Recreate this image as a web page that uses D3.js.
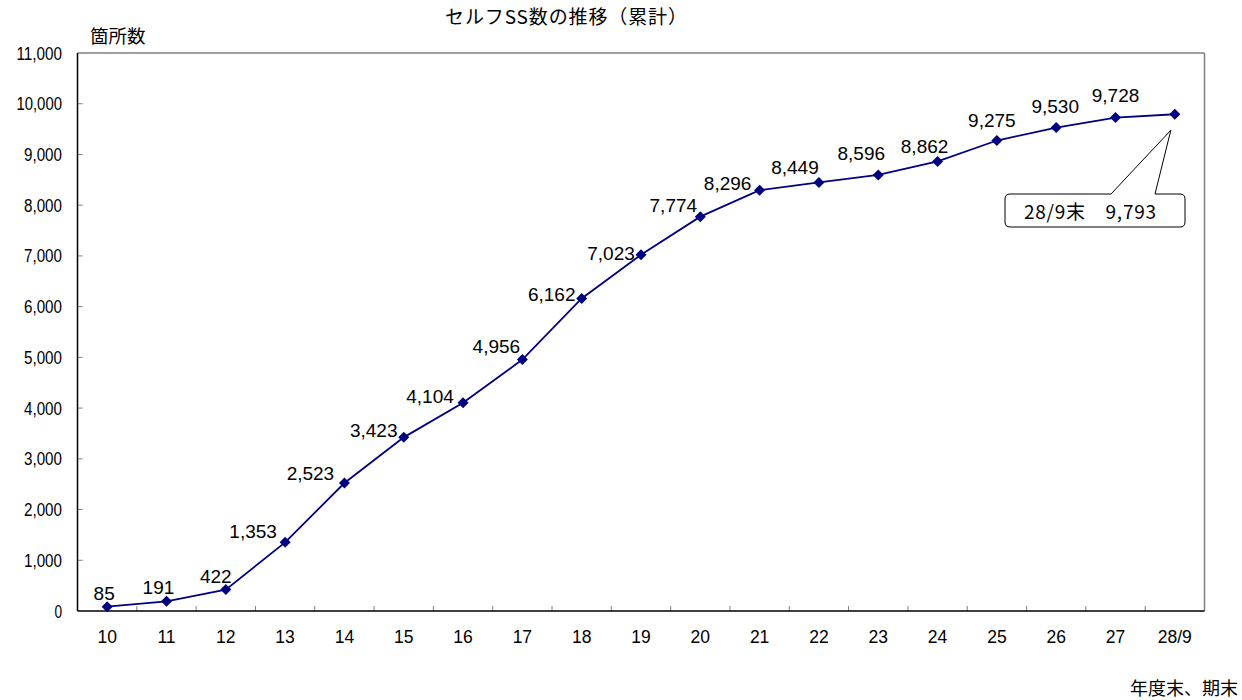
<!DOCTYPE html>
<html>
<head>
<meta charset="utf-8">
<script src="https://cdn.jsdelivr.net/npm/d3@7"></script>
<style>
  body { margin: 0; background: #fff; }
  svg text { font-family: "Liberation Sans", Arial, sans-serif; fill: #000; }
  svg text.jp { font-family: "Noto Sans CJK JP", sans-serif; }
</style>
</head>
<body>
<svg id="chart" width="1242" height="700"></svg>
<script>
const categories = ["10", "11", "12", "13", "14", "15", "16", "17", "18", "19", "20", "21", "22", "23", "24", "25", "26", "27", "28/9"];
const counts = [85, 191, 422, 1353, 2523, 3423, 4104, 4956, 6162, 7023, 7774, 8296, 8449, 8596, 8862, 9275, 9530, 9728, 9793];
const yTicks = [0, 1000, 2000, 3000, 4000, 5000, 6000, 7000, 8000, 9000, 10000, 11000];
const titleText = "セルフSS数の推移（累計）";
const yAxisLabel = "箇所数";
const xAxisLabel = "年度末、期末";
const calloutText = "28/9末　9,793";

// label nudges (Excel hand-placed labels), centre dx / baseline dy from the point
const labelDx = [-3, -8, -10, -32, -34, -30, -33, -26, -30, -30, -27, -32, -24, -17, -13, -5, -1, 0];
const labelDy = [-7, -7, -7, -4, -3, 0, 0, -7, 3, 5, -5, 0, -8, -15, -8, -14, -15, -16];

const svg = d3.select("#chart");
const plotL = 77.5, plotR = 1204.5, plotT = 53, plotB = 611;

const x = d3.scaleBand().domain(categories).range([plotL, plotR]);
const y = d3.scaleLinear().domain([0, 11000]).range([plotB, plotT]);
const fmt = d3.format(",");

// frame
svg.append("line").attr("x1", plotL).attr("x2", plotR).attr("y1", plotT).attr("y2", plotT)
  .attr("stroke", "#808080").attr("stroke-width", 1.5);
svg.append("line").attr("x1", plotR).attr("x2", plotR).attr("y1", plotT).attr("y2", plotB)
  .attr("stroke", "#808080").attr("stroke-width", 1.5);

// y ticks
svg.append("g").selectAll("line").data(yTicks.slice(1, -1)).join("line")
  .attr("x1", plotL).attr("x2", plotL + 5)
  .attr("y1", (d) => y(d)).attr("y2", (d) => y(d))
  .attr("stroke", "#808080");
svg.append("g").selectAll("text").data(yTicks).join("text")
  .attr("x", 62).attr("y", (d) => y(d) + 6.5)
  .attr("text-anchor", "end").attr("font-size", 17.5)
  .attr("textLength", (d) => fmt(d).length * 7.6)
  .attr("lengthAdjust", "spacingAndGlyphs")
  .text((d) => fmt(d));

// x ticks at band boundaries
svg.append("g").selectAll("line").data(categories.slice(1)).join("line")
  .attr("x1", (d) => x(d)).attr("x2", (d) => x(d))
  .attr("y1", plotB).attr("y2", plotB - 5)
  .attr("stroke", "#808080");
svg.append("g").selectAll("text").data(categories).join("text")
  .attr("x", (d) => x(d) + x.bandwidth() / 2).attr("y", 643)
  .attr("text-anchor", "middle").attr("font-size", 17.5)
  .text((d) => d);

svg.append("line").attr("x1", plotL).attr("x2", plotL).attr("y1", plotT).attr("y2", plotB)
  .attr("stroke", "#000").attr("stroke-width", 1.5);
svg.append("line").attr("x1", plotL).attr("x2", plotR).attr("y1", plotB).attr("y2", plotB)
  .attr("stroke", "#000").attr("stroke-width", 1.5);

const px = (i) => x(categories[i]) + x.bandwidth() / 2;
const py = (i) => y(counts[i]);

// line
svg.append("path")
  .datum(counts)
  .attr("fill", "none").attr("stroke", "#000080").attr("stroke-width", 1.8)
  .attr("d", d3.line().x((d, i) => px(i)).y((d) => y(d)));

// diamonds
svg.append("g").selectAll("path").data(counts).join("path")
  .attr("transform", (d, i) => `translate(${px(i)},${py(i)})`)
  .attr("d", "M0,-5.5L5.5,0L0,5.5L-5.5,0Z")
  .attr("fill", "#000080");

// data labels
svg.append("g").selectAll("text").data(counts.slice(0, -1)).join("text")
  .attr("x", (d, i) => px(i) + labelDx[i])
  .attr("y", (d, i) => py(i) + labelDy[i])
  .attr("text-anchor", "middle").attr("font-size", 19)
  .text((d) => fmt(d));

// callout for last point
const last = counts.length - 1;
const ax = px(last) - 4, ay = py(last) + 16;
const bx0 = 1005, bx1 = 1185, by0 = 194, by1 = 227, r = 5;
const p = d3.path();
p.moveTo(bx0 + r, by0);
p.lineTo(1111, by0);
p.lineTo(ax, ay);
p.lineTo(1155, by0);
p.lineTo(bx1 - r, by0);
p.quadraticCurveTo(bx1, by0, bx1, by0 + r);
p.lineTo(bx1, by1 - r);
p.quadraticCurveTo(bx1, by1, bx1 - r, by1);
p.lineTo(bx0 + r, by1);
p.quadraticCurveTo(bx0, by1, bx0, by1 - r);
p.lineTo(bx0, by0 + r);
p.quadraticCurveTo(bx0, by0, bx0 + r, by0);
p.closePath();
svg.append("path").attr("d", p.toString())
  .attr("fill", "#fff").attr("stroke", "#000").attr("stroke-width", 1);
svg.append("text").attr("class", "jp")
  .attr("x", 1090).attr("y", 219)
  .attr("text-anchor", "middle").attr("font-size", 19)
  .attr("textLength", 132).attr("lengthAdjust", "spacing")
  .text(calloutText);

// titles
svg.append("text").attr("class", "jp")
  .attr("x", 566).attr("y", 24)
  .attr("text-anchor", "middle").attr("font-size", 19)
  .attr("textLength", 242).attr("lengthAdjust", "spacing")
  .text(titleText);
svg.append("text").attr("class", "jp")
  .attr("x", 90).attr("y", 43)
  .attr("font-size", 18.5)
  .text(yAxisLabel);
svg.append("text").attr("class", "jp")
  .attr("x", 1238).attr("y", 695)
  .attr("text-anchor", "end").attr("font-size", 18)
  .text(xAxisLabel);
</script>
</body>
</html>
